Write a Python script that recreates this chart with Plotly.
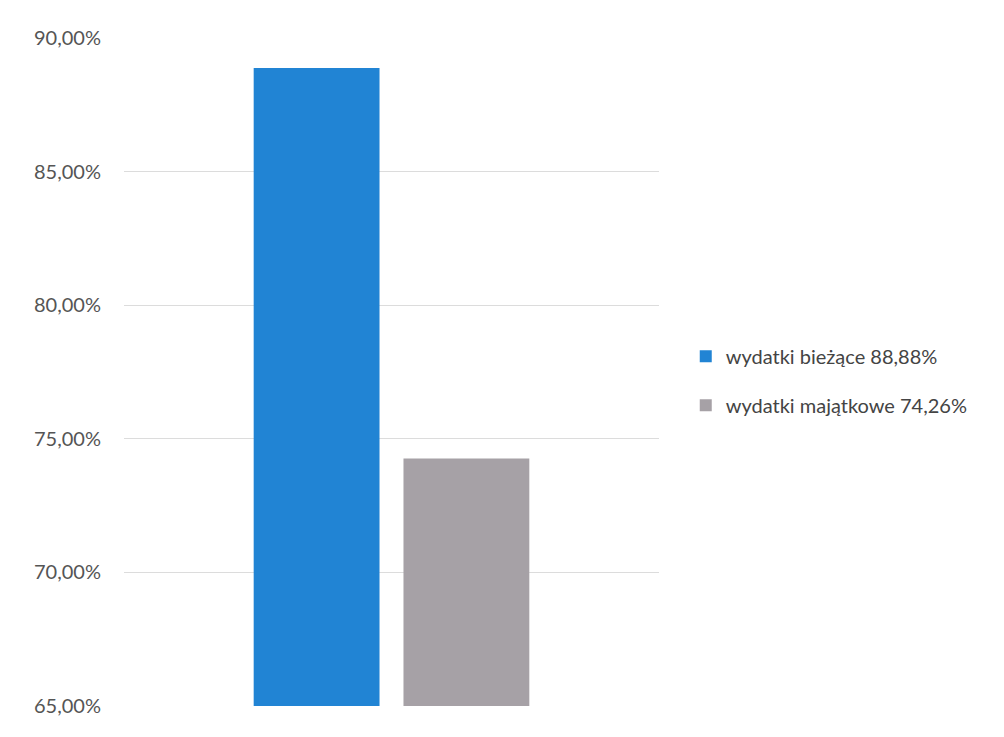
import plotly.graph_objects as go

category = [""]
series_names = ["wydatki bieżące 88,88%", "wydatki majątkowe 74,26%"]
series_values = [[88.88], [74.26]]
series_colors = ["#2184D4", "#A6A1A6"]
tick_vals = [65, 70, 75, 80, 85, 90]
tick_text = [f"{v:.2f}".replace(".", ",") + "%" for v in tick_vals]

fig = go.Figure()
for i, (name, vals, col) in enumerate(zip(series_names, series_values, series_colors)):
    fig.add_trace(go.Bar(x=category, y=vals, name=name, marker_color=col,
                         marker_line_width=0, legendgroup=f"g{i}"))

fig.update_layout(
    width=1004, height=737,
    margin=dict(l=124, r=345, t=38, b=31),
    paper_bgcolor="white", plot_bgcolor="white",
    barmode="group", bargap=0.44, bargroupgap=0.16,
    font=dict(family="Lato, 'Open Sans', sans-serif", size=20, color="#555555"),
    showlegend=True,
    legend=dict(x=1.05, xanchor="left", y=0.487, yanchor="middle",
                traceorder="grouped", tracegroupgap=20,
                font=dict(size=20, color="#444444")),
    xaxis=dict(showticklabels=False, showgrid=False, zeroline=False, showline=False),
    yaxis=dict(range=[65, 90], tickvals=tick_vals, ticktext=tick_text,
               showgrid=True, gridcolor="#DCDCDC", gridwidth=1, zeroline=False,
               showline=False, ticks="", ticklabelstandoff=22,
               tickfont=dict(size=20, color="#555555")),
)

fig.write_html("out.html")
